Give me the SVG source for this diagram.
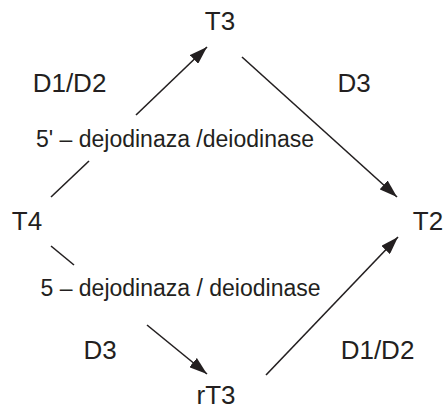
<svg xmlns="http://www.w3.org/2000/svg" width="445" height="409" viewBox="0 0 445 409">
<style>
.lbl{font-family:"Liberation Sans",Arial,sans-serif;font-size:26px;fill:#231f20;text-anchor:middle}
.sm{font-family:"Liberation Sans",Arial,sans-serif;font-size:23px;fill:#231f20;text-anchor:middle}
.ln{stroke:#231f20;stroke-width:1.6;fill:none}
</style>
<defs>
<marker id="ah" viewBox="0 0 18 12" refX="18" refY="6" markerWidth="18" markerHeight="12" orient="auto" markerUnits="userSpaceOnUse">
<path d="M0,0 L18,6 L0,12 z" fill="#231f20"/>
</marker>
</defs>
<rect width="445" height="409" fill="#fff"/>
<g id="connectors">
<line class="ln" x1="51" y1="197" x2="89" y2="161"/>
<line class="ln" x1="136" y1="115" x2="207" y2="47" marker-end="url(#ah)"/>
<line class="ln" x1="242" y1="57" x2="397" y2="197" marker-end="url(#ah)"/>
<line class="ln" x1="51" y1="246" x2="74" y2="265"/>
<line class="ln" x1="147" y1="325" x2="207" y2="374" marker-end="url(#ah)"/>
<line class="ln" x1="266" y1="375" x2="398" y2="237" marker-end="url(#ah)"/>
</g>
<g id="T3"><text class="lbl" x="220" y="30">T3</text></g>
<g id="T4"><text class="lbl" x="27" y="230">T4</text></g>
<g id="T2"><text class="lbl" x="428" y="230">T2</text></g>
<g id="rT3"><text class="lbl" x="216" y="404">rT3</text></g>
<g id="labels">
<text class="lbl" x="69.5" y="92">D1/D2</text>
<text class="lbl" x="354" y="92">D3</text>
<text class="sm" x="175" y="147">5' – dejodinaza /deiodinase</text>
<text class="sm" x="180.5" y="296">5 – dejodinaza / deiodinase</text>
<text class="lbl" x="100" y="359">D3</text>
<text class="lbl" x="377.5" y="359">D1/D2</text>
</g>
</svg>
